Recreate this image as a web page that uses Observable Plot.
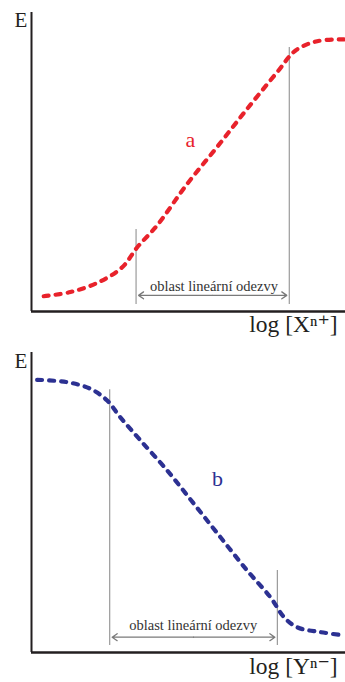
<!DOCTYPE html>
<html>
<head>
<meta charset="utf-8">
<script src="https://cdn.jsdelivr.net/npm/d3@7"></script>
<script src="https://cdn.jsdelivr.net/npm/@observablehq/plot@0.6"></script>
<style>
  html, body { margin: 0; padding: 0; background: #fff; }
  #chart svg { display: block; }
</style>
</head>
<body>
<div id="chart"></div>
<script>
// Curve a: E rising with log [X^n+]
const logX = [0.39, 1.24, 2.14, 2.89, 3.37, 4.00, 4.96, 5.91, 6.87, 7.82, 8.41, 9.10, 9.95];
const eA   = [0.51, 0.65, 0.98, 1.48, 2.15, 2.88, 4.27, 5.50, 6.78, 8.00, 8.73, 9.04, 9.10];
// Curve b: E falling with log [Y^n-]
const logY = [0.18, 1.14, 1.88, 2.41, 2.83, 3.47, 4.32, 5.17, 6.02, 6.87, 7.61, 8.04, 8.46, 9.20, 9.95];
const eB   = [9.09, 9.01, 8.79, 8.40, 7.84, 7.07, 6.07, 4.96, 3.84, 2.73, 1.84, 1.18, 0.84, 0.68, 0.57];
// Linear response ranges (x bounds and E at bounds)
const rangeA = [3.33, 8.21];
const rangeAE = [2.74, 8.83];
const rangeB = [2.49, 7.83];
const rangeBE = [8.76, 2.73];
// Texts
const rangeLabel = "oblast lineární odezvy";
const yLabel = "E";
const xLabelA = "log [Xⁿ⁺]";
const xLabelB = "log [Yⁿ⁻]";
const curveLabels = ["a", "b"];

const RED = "#e8222b";
const NAVY = "#2c3192";
const AXIS = "#231f20";
const GUIDE = "#9a9a9a";
const FONT = "'Liberation Serif', 'DejaVu Serif', serif";

function panel({xs, es, color, range, rangeE, xLabel, curveLabel, labelPos, textPos, arrowY, height, marginBottom}) {
  const pts = xs.map((x, i) => ({x, e: es[i]}));
  const guides = range.map((x, i) => ({x, top: rangeE[i]}));
  const mid = (range[0] + range[1]) / 2;
  return Plot.plot({
    width: 345,
    height,
    marginLeft: 31,
    marginRight: 0,
    marginTop: 12,
    marginBottom,
    style: {fontFamily: FONT, background: "#fff"},
    x: {domain: [0, 10], axis: null},
    y: {domain: [0, 10], axis: null},
    marks: [
      Plot.ruleX(guides, {x: "x", y1: 0.23, y2: "top", stroke: GUIDE, strokeWidth: 1.2}),
      Plot.arrow([{x1: mid, x2: range[0] + 0.08}, {x1: mid, x2: range[1] - 0.08}], {
        x1: "x1", x2: "x2", y1: arrowY, y2: arrowY, bend: 0,
        stroke: "#7a7a7a", strokeWidth: 1.3, headLength: 7, headAngle: 70
      }),
      Plot.text([rangeLabel], {
        x: textPos[0], y: textPos[1], text: d => d, lineAnchor: "bottom",
        fontSize: 14.5, fill: "#333", fontFamily: FONT
      }),
      Plot.line(pts, {
        x: "x", y: "e", curve: "catmull-rom", stroke: color, strokeWidth: 4.2,
        strokeDasharray: "5,7", strokeLinecap: "round"
      }),
      Plot.text([curveLabel], {
        x: labelPos[0], y: labelPos[1], text: d => d, fontSize: 22, fill: color, fontFamily: FONT
      }),
      Plot.ruleX([0], {y1: 0, y2: 10, stroke: AXIS, strokeWidth: 2}),
      Plot.ruleY([0], {x1: 0, x2: 10, stroke: AXIS, strokeWidth: 2.5}),
      Plot.text([yLabel], {
        x: -0.34, y: 9.5, text: d => d, lineAnchor: "bottom", fontSize: 21, fill: AXIS, fontFamily: FONT
      }),
      Plot.text([xLabel], {
        x: 9.75, y: -0.7, text: d => d, textAnchor: "end", lineAnchor: "bottom",
        fontSize: 23.5, fill: AXIS, fontFamily: FONT
      })
    ]
  });
}

const panelA = panel({
  xs: logX, es: eA, color: RED, range: rangeA, rangeE: rangeAE,
  xLabel: xLabelA, curveLabel: curveLabels[0],
  labelPos: [5.06, 5.75], textPos: [5.81, 0.70], arrowY: 0.54,
  height: 340, marginBottom: 29
});
const panelB = panel({
  xs: logY, es: eB, color: NAVY, range: rangeB, rangeE: rangeBE,
  xLabel: xLabelB, curveLabel: curveLabels[1],
  labelPos: [5.92, 5.8], textPos: [5.15, 0.76], arrowY: 0.51,
  height: 342, marginBottom: 30
});
const host = document.getElementById("chart");
host.appendChild(panelA);
host.appendChild(panelB);
</script>
</body>
</html>
